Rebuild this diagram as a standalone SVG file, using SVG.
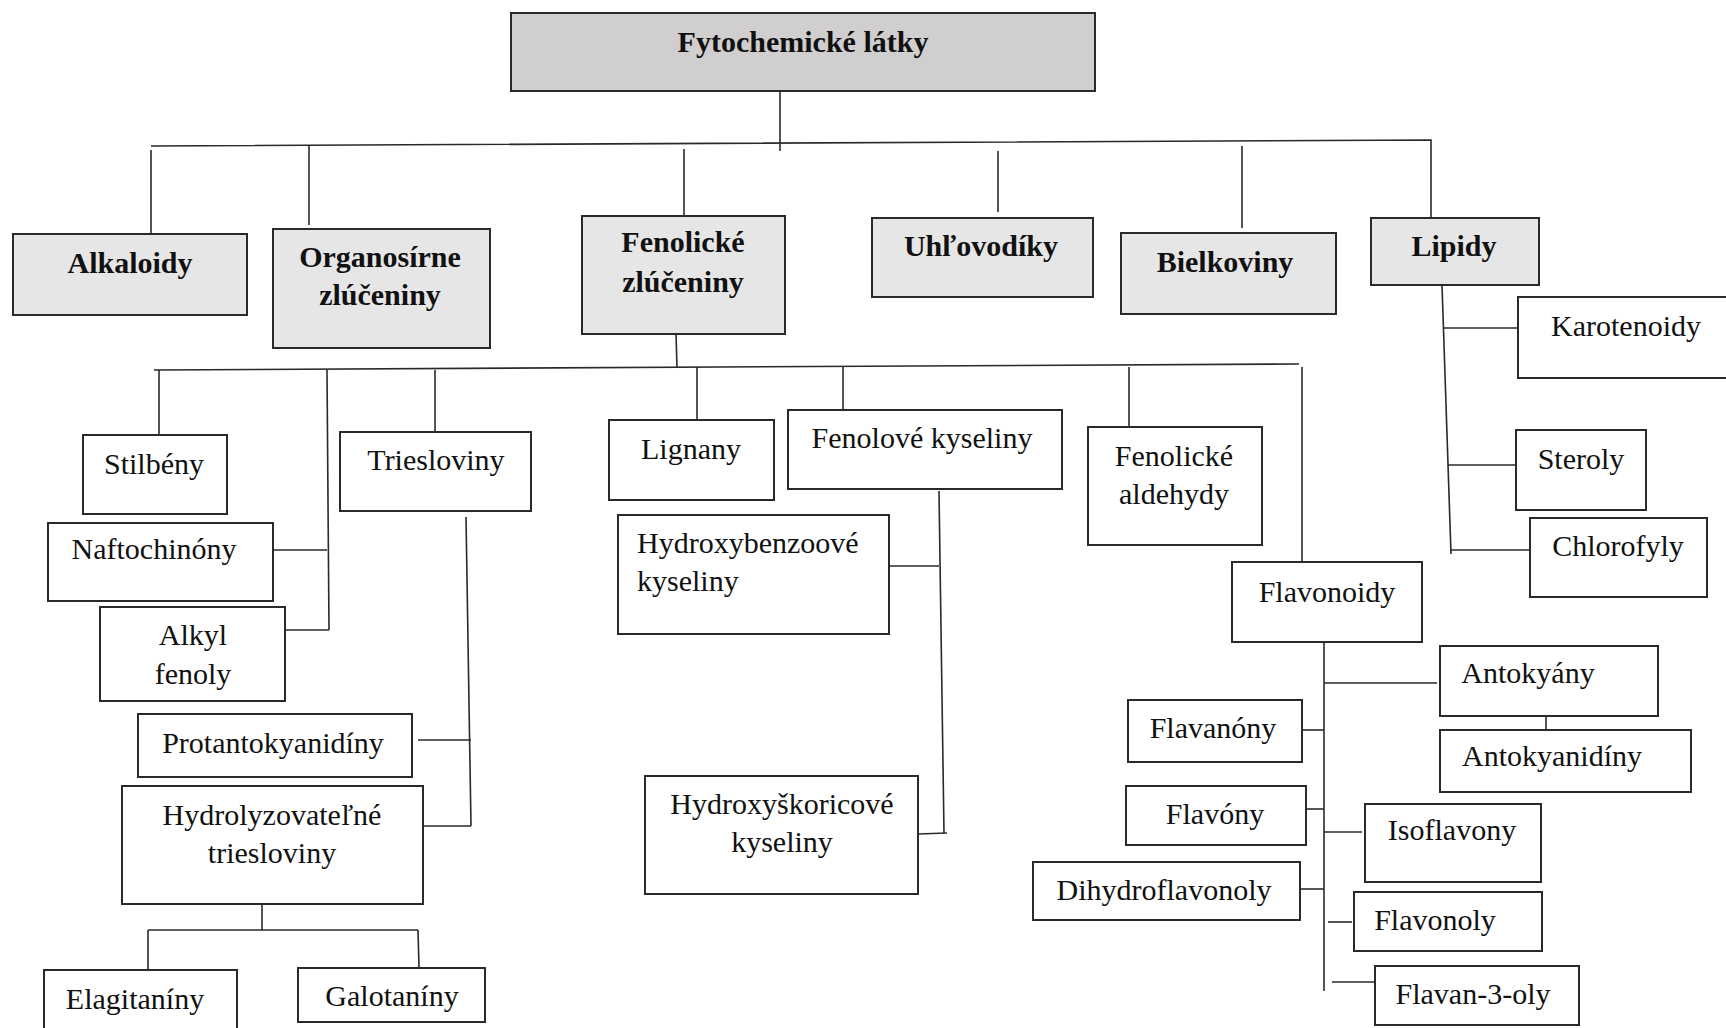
<svg xmlns="http://www.w3.org/2000/svg" width="1726" height="1028" viewBox="0 0 1726 1028">
<style>
.bx{fill:#ffffff;stroke:#2a2a2a;stroke-width:2}
.b0{fill:#d0cece;stroke:#2a2a2a;stroke-width:2}
.b1{fill:#e6e6e6;stroke:#2a2a2a;stroke-width:2}
.t{font-family:"Liberation Serif","Times New Roman",serif;font-size:30px;fill:#111;text-anchor:middle}
.tb{font-family:"Liberation Serif","Times New Roman",serif;font-size:30px;font-weight:bold;fill:#111;text-anchor:middle}
.ln{stroke:#2a2a2a;stroke-width:1.6;fill:none}
</style>
<rect width="1726" height="1028" fill="#ffffff"/>
<g id="connectors" class="ln">
<path d="M780 91V151"/>
<path d="M151 146L1431 140V218"/>
<path d="M151 150V234"/>
<path d="M309 146V225"/>
<path d="M684 149V216"/>
<path d="M998 151V212"/>
<path d="M1242 146V228"/>
<path d="M1442 285L1451 554"/>
<path d="M1444 328H1518"/>
<path d="M1448 465H1516"/>
<path d="M1451 550H1530"/>
<path d="M676 334L677 367"/>
<path d="M154 370L1299 364"/>
<path d="M159 370V435"/>
<path d="M327 370L329 630"/>
<path d="M273 550H327"/>
<path d="M285 630H329"/>
<path d="M435 370V432"/>
<path d="M466 517L471 826"/>
<path d="M418 740H471"/>
<path d="M423 826H471"/>
<path d="M262 904V930"/>
<path d="M148 930H418"/>
<path d="M148 930V970"/>
<path d="M418 930L419 968"/>
<path d="M697 367V420"/>
<path d="M843 367V410"/>
<path d="M939 491L944 833"/>
<path d="M889 566H939"/>
<path d="M918 834L947 833"/>
<path d="M1129 367V427"/>
<path d="M1302 367V561"/>
<path d="M1324 642V991"/>
<path d="M1324 683H1437"/>
<path d="M1546 716V730"/>
<path d="M1302 730H1324"/>
<path d="M1306 809H1324"/>
<path d="M1324 832H1362"/>
<path d="M1300 889H1324"/>
<path d="M1328 922H1352"/>
<path d="M1332 982H1375"/>
</g>
<g id="n-root"><rect class="b0" x="511" y="13" width="584" height="78"/><text class="tb" x="803" y="52">Fytochemické látky</text></g>
<g id="n-alkaloidy"><rect class="b1" x="13" y="234" width="234" height="81"/><text class="tb" x="130" y="273">Alkaloidy</text></g>
<g id="n-organosirne"><rect class="b1" x="273" y="229" width="217" height="119"/><text class="tb" x="380" y="267">Organosírne</text><text class="tb" x="380" y="305">zlúčeniny</text></g>
<g id="n-fenolicke"><rect class="b1" x="582" y="216" width="203" height="118"/><text class="tb" x="683" y="252">Fenolické</text><text class="tb" x="683" y="292">zlúčeniny</text></g>
<g id="n-uhlovodiky"><rect class="b1" x="872" y="218" width="221" height="79"/><text class="tb" x="981" y="256">Uhľovodíky</text></g>
<g id="n-bielkoviny"><rect class="b1" x="1121" y="233" width="215" height="81"/><text class="tb" x="1225" y="272">Bielkoviny</text></g>
<g id="n-lipidy"><rect class="b1" x="1371" y="218" width="168" height="67"/><text class="tb" x="1454" y="256">Lipidy</text></g>
<g id="n-karotenoidy"><rect class="bx" x="1518" y="297" width="212" height="81"/><text class="t" x="1626" y="336">Karotenoidy</text></g>
<g id="n-steroly"><rect class="bx" x="1516" y="430" width="130" height="80"/><text class="t" x="1581" y="469">Steroly</text></g>
<g id="n-chlorofyly"><rect class="bx" x="1530" y="518" width="177" height="79"/><text class="t" x="1618" y="556">Chlorofyly</text></g>
<g id="n-stilbeny"><rect class="bx" x="83" y="435" width="144" height="79"/><text class="t" x="154" y="474">Stilbény</text></g>
<g id="n-naftochinony"><rect class="bx" x="48" y="523" width="225" height="78"/><text class="t" x="154" y="559">Naftochinóny</text></g>
<g id="n-alkylfenoly"><rect class="bx" x="100" y="607" width="185" height="94"/><text class="t" x="193" y="645">Alkyl</text><text class="t" x="193" y="684">fenoly</text></g>
<g id="n-triesloviny"><rect class="bx" x="340" y="432" width="191" height="79"/><text class="t" x="436" y="470">Triesloviny</text></g>
<g id="n-protantokyanidiny"><rect class="bx" x="138" y="714" width="274" height="63"/><text class="t" x="273" y="753">Protantokyanidíny</text></g>
<g id="n-hydrolyzovatelne"><rect class="bx" x="122" y="786" width="301" height="118"/><text class="t" x="272" y="825">Hydrolyzovateľné</text><text class="t" x="272" y="863">triesloviny</text></g>
<g id="n-elagitaniny"><rect class="bx" x="44" y="970" width="193" height="62"/><text class="t" x="135" y="1009">Elagitaníny</text></g>
<g id="n-galotaniny"><rect class="bx" x="298" y="968" width="187" height="54"/><text class="t" x="392" y="1006">Galotaníny</text></g>
<g id="n-lignany"><rect class="bx" x="609" y="420" width="165" height="80"/><text class="t" x="691" y="459">Lignany</text></g>
<g id="n-fenolove"><rect class="bx" x="788" y="410" width="274" height="79"/><text class="t" x="922" y="448">Fenolové kyseliny</text></g>
<g id="n-hydroxybenzoove"><rect class="bx" x="618" y="515" width="271" height="119"/><text class="t" x="637" y="553" style="text-anchor:start">Hydroxybenzoové</text><text class="t" x="637" y="591" style="text-anchor:start">kyseliny</text></g>
<g id="n-hydroxyskoricove"><rect class="bx" x="645" y="776" width="273" height="118"/><text class="t" x="782" y="814">Hydroxyškoricové</text><text class="t" x="782" y="852">kyseliny</text></g>
<g id="n-aldehydy"><rect class="bx" x="1088" y="427" width="174" height="118"/><text class="t" x="1174" y="466">Fenolické</text><text class="t" x="1174" y="504">aldehydy</text></g>
<g id="n-flavonoidy"><rect class="bx" x="1232" y="562" width="190" height="80"/><text class="t" x="1327" y="602">Flavonoidy</text></g>
<g id="n-antokyany"><rect class="bx" x="1440" y="646" width="218" height="70"/><text class="t" x="1528" y="683">Antokyány</text></g>
<g id="n-antokyanidiny"><rect class="bx" x="1440" y="730" width="251" height="62"/><text class="t" x="1552" y="766">Antokyanidíny</text></g>
<g id="n-flavanony"><rect class="bx" x="1128" y="700" width="174" height="62"/><text class="t" x="1213" y="738">Flavanóny</text></g>
<g id="n-flavony"><rect class="bx" x="1126" y="786" width="180" height="59"/><text class="t" x="1215" y="824">Flavóny</text></g>
<g id="n-isoflavony"><rect class="bx" x="1365" y="804" width="176" height="78"/><text class="t" x="1452" y="840">Isoflavony</text></g>
<g id="n-dihydroflavonoly"><rect class="bx" x="1033" y="862" width="267" height="58"/><text class="t" x="1164" y="900">Dihydroflavonoly</text></g>
<g id="n-flavonoly"><rect class="bx" x="1354" y="892" width="188" height="59"/><text class="t" x="1435" y="930">Flavonoly</text></g>
<g id="n-flavan3oly"><rect class="bx" x="1375" y="966" width="204" height="59"/><text class="t" x="1473" y="1004">Flavan-3-oly</text></g>
</svg>
